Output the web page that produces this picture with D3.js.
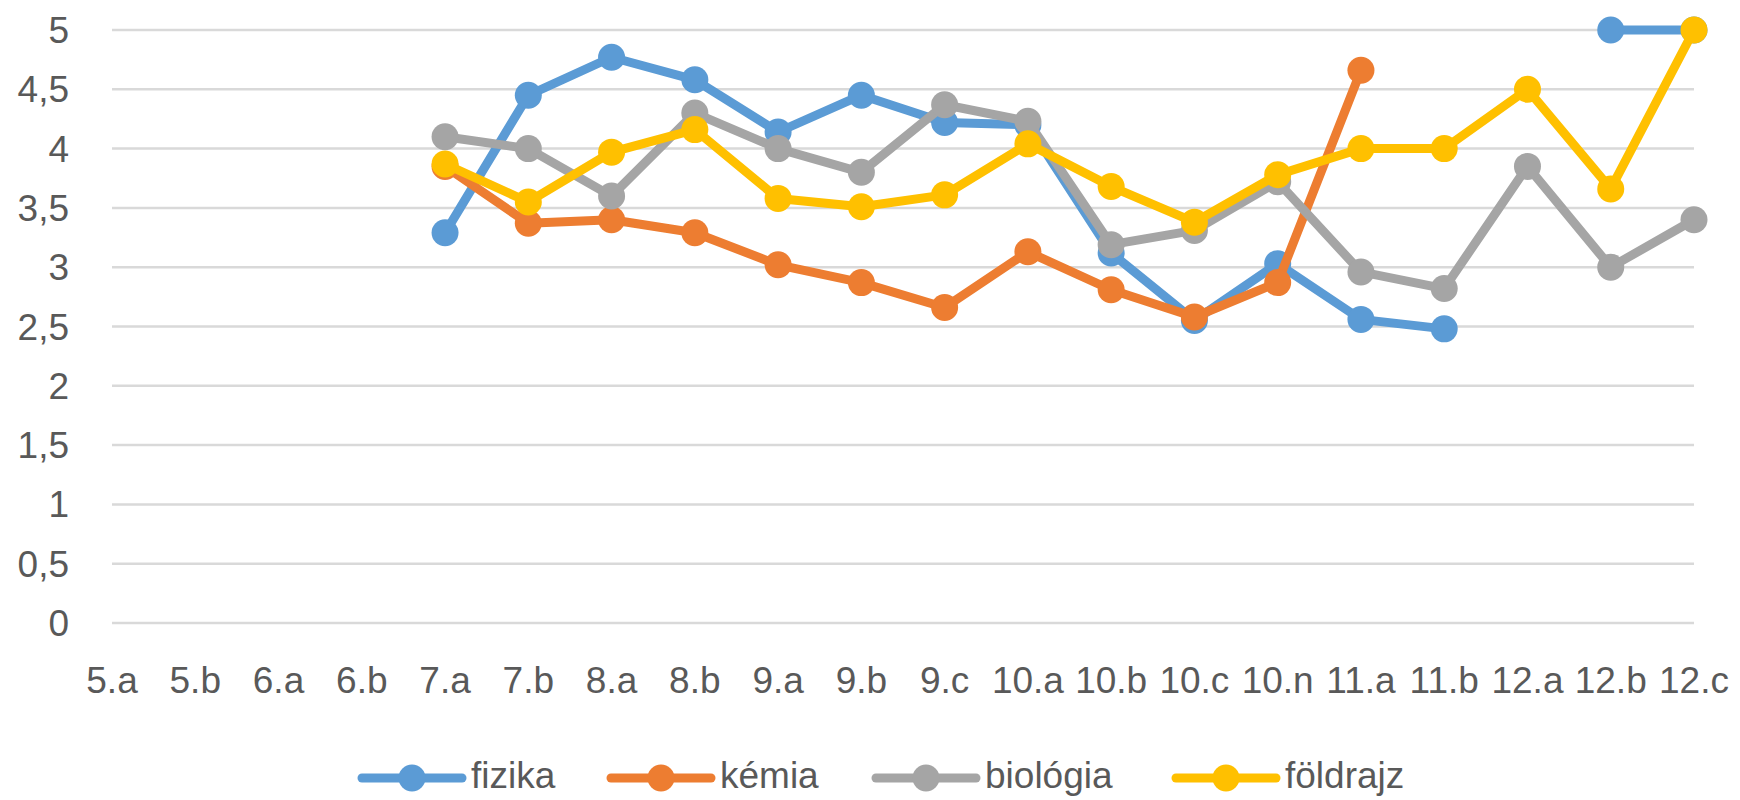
<!DOCTYPE html>
<html>
<head>
<meta charset="utf-8">
<script src="https://cdn.jsdelivr.net/npm/d3@7"></script>
<style>
  html,body{margin:0;padding:0;background:#fff;}
  svg text{font-family:"Liberation Sans",Arial,sans-serif;fill:#595959;}
</style>
</head>
<body>
<svg id="chart" width="1740" height="800"></svg>
<script>
/* categories (osztályok) */
var classes=['5.a','5.b','6.a','6.b','7.a','7.b','8.a','8.b','9.a','9.b','9.c','10.a','10.b','10.c','10.n','11.a','11.b','12.a','12.b','12.c'];
var yTicks=[0,0.5,1,1.5,2,2.5,3,3.5,4,4.5,5];

/* series values, null = no data */
var fizika   =[null,null,null,null,3.29,4.45,4.77,4.58,4.14,4.45,4.22,4.20,3.12,2.55,3.03,2.56,2.48,null,5.00,5.00];
var kemia    =[null,null,null,null,3.85,3.37,3.40,3.29,3.02,2.87,2.66,3.13,2.81,2.58,2.87,4.66,null,null,null,null];
var biologia =[null,null,null,null,4.10,4.00,3.60,4.30,4.00,3.80,4.37,4.23,3.19,3.31,3.72,2.96,2.82,3.85,3.00,3.40];
var foldrajz =[null,null,null,null,3.87,3.55,3.97,4.16,3.58,3.51,3.61,4.04,3.68,3.38,3.78,4.00,4.00,4.50,3.66,5.00];

var seriesNames=['fizika','kémia','biológia','földrajz'];
var seriesColors=['#5B9BD5','#ED7D31','#A5A5A5','#FFC000'];
var seriesData=[fizika,kemia,biologia,foldrajz];

var ML=112, MR=46, MT=30, PH=593;
var W=1740-ML-MR;
var svg=d3.select('#chart');
var g=svg.append('g').attr('transform','translate('+ML+','+MT+')');

var x=d3.scalePoint().domain(classes).range([0,W]).padding(0);
var y=d3.scaleLinear().domain([0,5]).range([PH,0]);

/* Grid */
g.selectAll('line.grid').data(yTicks).enter().append('line')
  .attr('class','grid')
  .attr('x1',0).attr('x2',W)
  .attr('y1',function(d){return y(d)}).attr('y2',function(d){return y(d)})
  .attr('stroke','#D9D9D9').attr('stroke-width',2.5);

/* Y labels */
var fmt=function(d){return String(d).replace('.',',')};
g.selectAll('text.yl').data(yTicks).enter().append('text')
  .attr('class','yl')
  .attr('x',-43).attr('y',function(d){return y(d)+13})
  .attr('text-anchor','end').attr('font-size','37px')
  .text(fmt);

/* X labels */
g.selectAll('text.xl').data(classes).enter().append('text')
  .attr('class','xl')
  .attr('x',function(d){return x(d)}).attr('y',PH+70)
  .attr('text-anchor','middle').attr('font-size','37px')
  .text(function(d){return d});

/* Lines + markers, series in order */
var line=d3.line()
  .defined(function(d){return d!=null})
  .x(function(d,i){return x(classes[i])})
  .y(function(d){return y(d)});

seriesData.forEach(function(vals,si){
  var sg=g.append('g');
  sg.append('path').datum(vals)
    .attr('d',line)
    .attr('fill','none').attr('stroke',seriesColors[si]).attr('stroke-width',9)
    .attr('stroke-linejoin','round').attr('stroke-linecap','round');
  vals.forEach(function(v,i){
    if(v==null) return;
    sg.append('circle').attr('cx',x(classes[i])).attr('cy',y(v)).attr('r',13.5)
      .attr('fill',seriesColors[si]);
  });
});

/* Legend */
var legX=[362,611,876,1176];
var leg=svg.append('g');
seriesNames.forEach(function(n,i){
  var lg=leg.append('g').attr('transform','translate('+legX[i]+',778)');
  lg.append('line').attr('x1',0).attr('x2',100).attr('y1',0).attr('y2',0)
    .attr('stroke',seriesColors[i]).attr('stroke-width',9).attr('stroke-linecap','round');
  lg.append('circle').attr('cx',50).attr('cy',0).attr('r',13.5).attr('fill',seriesColors[i]);
  lg.append('text').attr('x',109).attr('y',10).attr('font-size','37px').text(n);
});
</script>
</body>
</html>
